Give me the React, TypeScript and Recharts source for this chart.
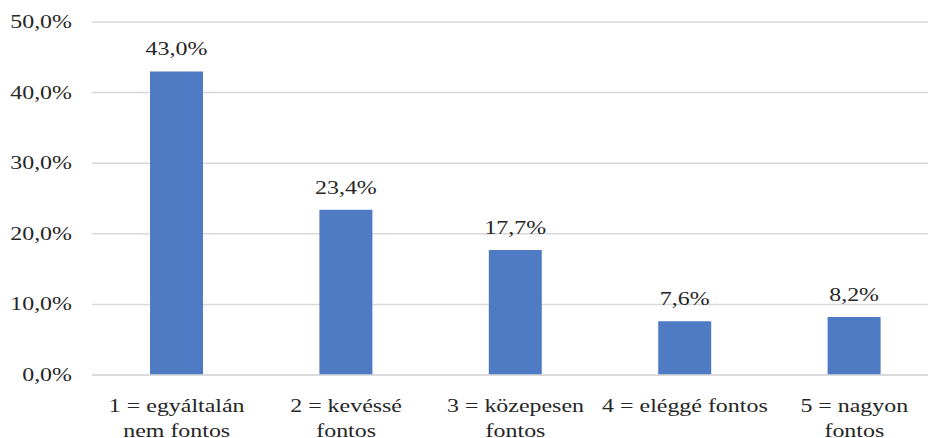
import React from 'react';
import { BarChart, Bar, XAxis, YAxis, CartesianGrid, LabelList } from 'recharts';

const categories = ['1 = egyáltalán\nnem fontos', '2 = kevéssé\nfontos', '3 = közepesen\nfontos', '4 = eléggé fontos', '5 = nagyon\nfontos'];
const values = [43.0, 23.4, 17.7, 7.6, 8.2];
const yTicks = [0, 10, 20, 30, 40, 50];

const data = categories.map((c, i) => ({ name: c, value: values[i] }));

const FONT = 'Liberation Serif';
const TEXT = '#262626';
const SX = 1.33;

const fmt = (v: number) => v.toFixed(1).replace('.', ',') + '%';

const forceFont = (el: SVGTextElement | null) => {
  if (el) {
    el.style.setProperty('font-family', "'Liberation Serif', 'Times New Roman', serif", 'important');
    el.style.setProperty('font-size', '18px', 'important');
  }
};

const SerifText = ({ x, y, anchor, lines }: { x: number; y: number; anchor: 'start' | 'middle' | 'end'; lines: string[] }) => (
  <g transform={`translate(${x},${y}) scale(${SX},1)`}>
    <text ref={forceFont} x={0} y={0} textAnchor={anchor} fontFamily={FONT} fontSize={18} fill={TEXT}>
      {lines.map((l, i) => (
        <tspan key={i} x={0} y={i * 25}>{l}</tspan>
      ))}
    </text>
  </g>
);

const XTick = (props: any) => {
  const { x, y, payload } = props;
  return <SerifText x={x} y={y + 37} anchor="middle" lines={String(payload.value).split('\n')} />;
};

const YTick = (props: any) => {
  const { x, y, payload } = props;
  return <SerifText x={x} y={y + 6} anchor="end" lines={[fmt(Number(payload.value))]} />;
};

const TopLabel = (props: any) => {
  const { x, y, width, value } = props;
  return <SerifText x={Number(x) + Number(width) / 2} y={Number(y) - 16} anchor="middle" lines={[fmt(Number(value))]} />;
};

const css = `#root .chartbox svg text, #root .chartbox svg tspan { font-family: 'Liberation Serif', 'Times New Roman', serif !important; font-size: 18px !important; }`;

export default function App() {
  return (
    <div className="chartbox" style={{ position: 'absolute', left: 0, top: 0, width: 928, height: 438, overflow: 'hidden', background: '#fff' }}>
      <style>{css}</style>
      <BarChart width={939} height={438} data={data} margin={{ top: 22, right: 0, bottom: 0, left: 0 }}>
        <CartesianGrid vertical={false} stroke="#d9d9d9" strokeWidth={1.5} />
        <XAxis
          dataKey="name"
          axisLine={{ stroke: '#d9d9d9', strokeWidth: 1.5 }}
          tickLine={false}
          tickSize={0}
          tickMargin={0}
          height={63}
          interval={0}
          tick={<XTick />}
        />
        <YAxis
          width={92}
          domain={[0, 50]}
          ticks={yTicks}
          axisLine={false}
          tickLine={false}
          tickSize={0}
          tickMargin={20}
          tick={<YTick />}
        />
        <Bar dataKey="value" fill="#4F7BC4" barSize={53} isAnimationActive={false}>
          <LabelList dataKey="value" content={<TopLabel />} />
        </Bar>
      </BarChart>
    </div>
  );
}
